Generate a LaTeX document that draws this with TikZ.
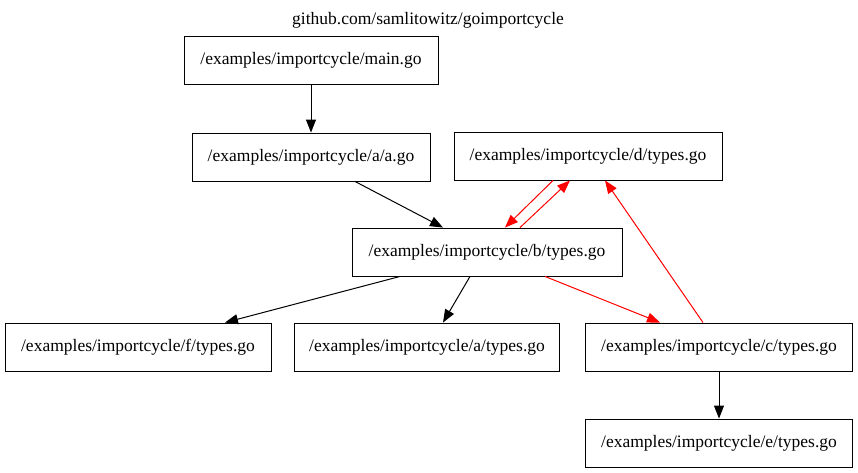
\documentclass[tikz,border=0pt]{standalone}
\usepackage{fontspec}
\setmainfont{Liberation Serif}
\usetikzlibrary{arrows.meta}
\definecolor{cycleR}{HTML}{FF0000}

\tikzset{
  pkg/.style={draw,line width=0.9pt,minimum height=48pt,inner xsep=0pt,
              font=\fontsize{17.5}{20}\selectfont},
  dep/.style={-{Triangle[length=13pt,width=10pt]},line width=1pt},
  cyc/.style={dep,cycleR}
}

\begin{document}
\begin{tikzpicture}[x=1pt,y=-1pt]
  \useasboundingbox (0,0) rectangle (858,473);
  \node[font=\fontsize{17.5}{20}\selectfont] (title) at (428,20) {github.com/samlitowitz/goimportcycle};
  \node[pkg,minimum width=254pt] (main) at (311,60)  {/examples/importcycle/main.go};
  \node[pkg,minimum width=238pt] (aa)   at (311,157) {/examples/importcycle/a/a.go};
  \node[pkg,minimum width=268pt] (d)    at (588,156) {/examples/importcycle/d/types.go};
  \node[pkg,minimum width=270pt] (b)    at (487,252) {/examples/importcycle/b/types.go};
  \node[pkg,minimum width=266pt] (f)    at (138,347) {/examples/importcycle/f/types.go};
  \node[pkg,minimum width=265pt] (at)   at (427,347) {/examples/importcycle/a/types.go};
  \node[pkg,minimum width=267pt] (c)    at (719,347) {/examples/importcycle/c/types.go};
  \node[pkg,minimum width=267pt] (e)    at (719,443) {/examples/importcycle/e/types.go};
  % imports
  \draw[dep] (main) -- (aa);
  \draw[dep] ([xshift=44pt]aa.south) -- ([xshift=-44pt]b.north);
  \draw[dep] ([xshift=-87pt]b.south) -- ([xshift=87pt]f.north);
  \draw[dep] ([xshift=-17pt]b.south) -- ([xshift=16pt]at.north);
  \draw[dep] (c) -- (e);
  % the cycle
  \draw[cyc] ([xshift=33pt]b.north) -- ([xshift=-18pt]d.south);
  \draw[cyc] ([xshift=-35pt]d.south) -- ([xshift=18pt]b.north);
  \draw[cyc] ([xshift=58pt]b.south) -- ([xshift=-59pt]c.north);
  \draw[cyc] ([xshift=-16pt]c.north) -- ([xshift=17pt]d.south);
\end{tikzpicture}
\end{document}
